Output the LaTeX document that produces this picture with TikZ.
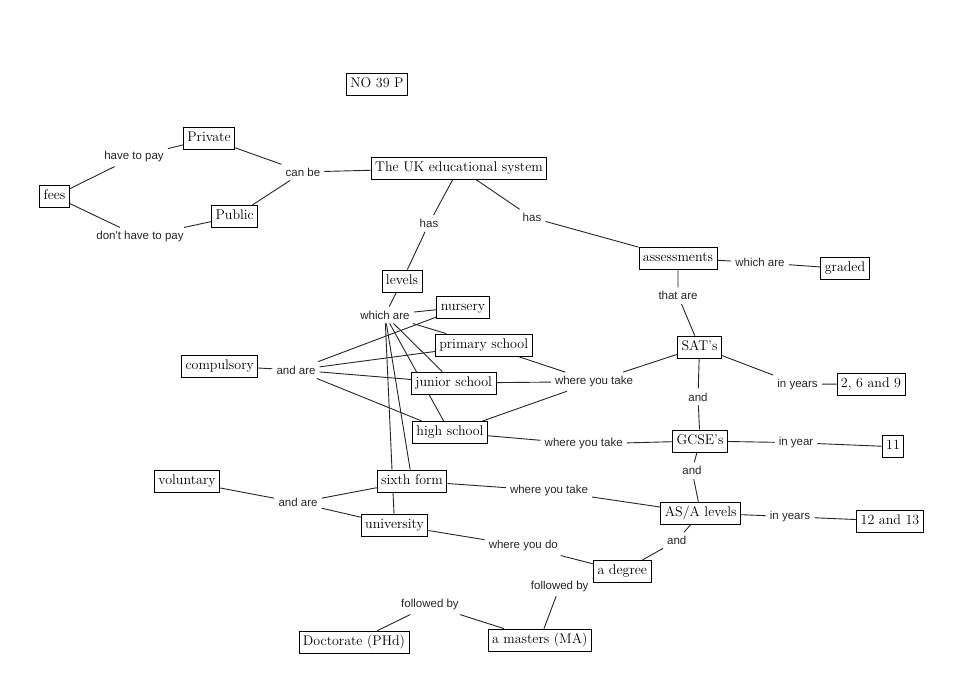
\documentclass[tikz,border=0pt]{standalone}
\usepackage{fontspec}
\newfontfamily\lblfont{Liberation Sans}
\usetikzlibrary{backgrounds}
\begin{document}
\begin{tikzpicture}[x=1pt,y=-1pt,
  concept/.style={draw=black, line width=0.8pt, fill=white,
    font=\fontsize{14}{16}\selectfont, inner xsep=4pt, inner ysep=0pt,
    text height=10pt, text depth=3.5pt, minimum height=22pt},
  phrase/.style={font=\lblfont\fontsize{11.5}{13}\selectfont, text=black!85,
    inner xsep=4pt, inner ysep=4pt},
  link/.style={draw=black!85, line width=0.9pt}]
\useasboundingbox (0,0) rectangle (964,695);

% concepts
\node[concept] (no) at (377,84.5) {NO 39 P};
\node[concept] (private) at (209,138.5) {Private};
\node[concept] (fees) at (54.5,196.3) {fees};
\node[concept] (public) at (234.7,216.5) {Public};
\node[concept] (uk) at (459,168) {The UK educational system};
\node[concept] (levels) at (402,281) {levels};
\node[concept] (nursery) at (463,307) {nursery};
\node[concept] (primary) at (483.7,345) {primary school};
\node[concept] (compulsory) at (219.7,366) {compulsory};
\node[concept] (junior) at (453.7,383) {junior school};
\node[concept] (high) at (450,432.5) {high school};
\node[concept] (voluntary) at (187,481.7) {voluntary};
\node[concept] (sixth) at (412,481) {sixth form};
\node[concept] (univ) at (394.5,525) {university};
\node[concept] (assess) at (678,258) {assessments};
\node[concept] (graded) at (845,268.7) {graded};
\node[concept] (sats) at (699.5,347) {SAT\symbol{39}s};
\node[concept] (yA) at (871,384) {2, 6 and 9};
\node[concept] (gcse) at (700,441) {GCSE\symbol{39}s};
\node[concept] (yB) at (893,446.7) {11};
\node[concept] (asa) at (700.7,513) {AS/A levels};
\node[concept] (yC) at (890,521) {12 and 13};
\node[concept] (degree) at (622.3,571.3) {a degree};
\node[concept] (masters) at (539.7,640) {a masters (MA)};
\node[concept] (phd) at (354,642) {Doctorate (PHd)};

% linking phrases
\node[phrase] (p1) at (134,157) {have to pay};
\node[phrase] (p2) at (140,237) {don\symbol{39}t have to pay};
\node[phrase] (canbe) at (303,172) {can be};
\node[phrase] (has1) at (429,223.5) {has};
\node[phrase] (has2) at (532,217.7) {has};
\node[phrase] (whichare) at (385,315) {which are};
\node[phrase] (andare1) at (296,370) {and are};
\node[phrase] (whichare2) at (760,262.7) {which are};
\node[phrase] (thatare) at (678,295.7) {that are};
\node[phrase] (inyears1) at (797.5,384.3) {in years};
\node[phrase] (and1) at (698,397) {and};
\node[phrase] (wyt1) at (594,381.7) {where you take};
\node[phrase] (wyt2) at (583.7,444) {where you take};
\node[phrase] (inyear) at (796,442.7) {in year};
\node[phrase] (and2) at (692,470.7) {and};
\node[phrase] (wyt3) at (549,490.7) {where you take};
\node[phrase] (inyears2) at (790,516.7) {in years};
\node[phrase] (and3) at (676.7,540.7) {and};
\node[phrase] (andare2) at (298,502.7) {and are};
\node[phrase] (wyd) at (523.3,546) {where you do};
\node[phrase] (fb1) at (559.7,586.7) {followed by};
\node[phrase] (fb2) at (430,605) {followed by};

\begin{scope}[on background layer]
\draw[link] (fees) -- (p1) (p1) -- (private);
\draw[link] (fees) -- (p2) (p2) -- (public);
\draw[link] (private) -- (canbe) (public) -- (canbe) (canbe) -- (uk);
\draw[link] (uk) -- (has1) (has1) -- (levels);
\draw[link] (uk) -- (has2) (has2) -- (assess);
\draw[link] (levels) -- (whichare);
\foreach \t in {nursery,primary,junior,high,sixth,univ} \draw[link] (whichare) -- (\t);
\draw[link] (compulsory) -- (andare1);
\foreach \t in {nursery,primary,junior,high} \draw[link] (andare1) -- (\t);
\draw[link] (voluntary) -- (andare2) (andare2) -- (sixth) (andare2) -- (univ);
\foreach \t in {primary,junior,high} \draw[link] (\t) -- (wyt1);
\draw[link] (wyt1) -- (sats);
\draw[link] (high) -- (wyt2) (wyt2) -- (gcse);
\draw[link] (sixth) -- (wyt3) (wyt3) -- (asa);
\draw[link] (univ) -- (wyd) (wyd) -- (degree);
\draw[link] (assess) -- (whichare2) (whichare2) -- (graded);
\draw[link] (assess) -- (thatare) (thatare) -- (sats);
\draw[link] (sats) -- (inyears1) (inyears1) -- (yA);
\draw[link] (sats) -- (and1) (and1) -- (gcse);
\draw[link] (gcse) -- (inyear) (inyear) -- (yB);
\draw[link] (gcse) -- (and2) (and2) -- (asa);
\draw[link] (asa) -- (inyears2) (inyears2) -- (yC);
\draw[link] (asa) -- (and3) (and3) -- (degree);
\draw[link] (degree) -- (fb1) (fb1) -- (masters);
\draw[link] (masters) -- (fb2) (fb2) -- (phd);
\end{scope}
\end{tikzpicture}
\end{document}
